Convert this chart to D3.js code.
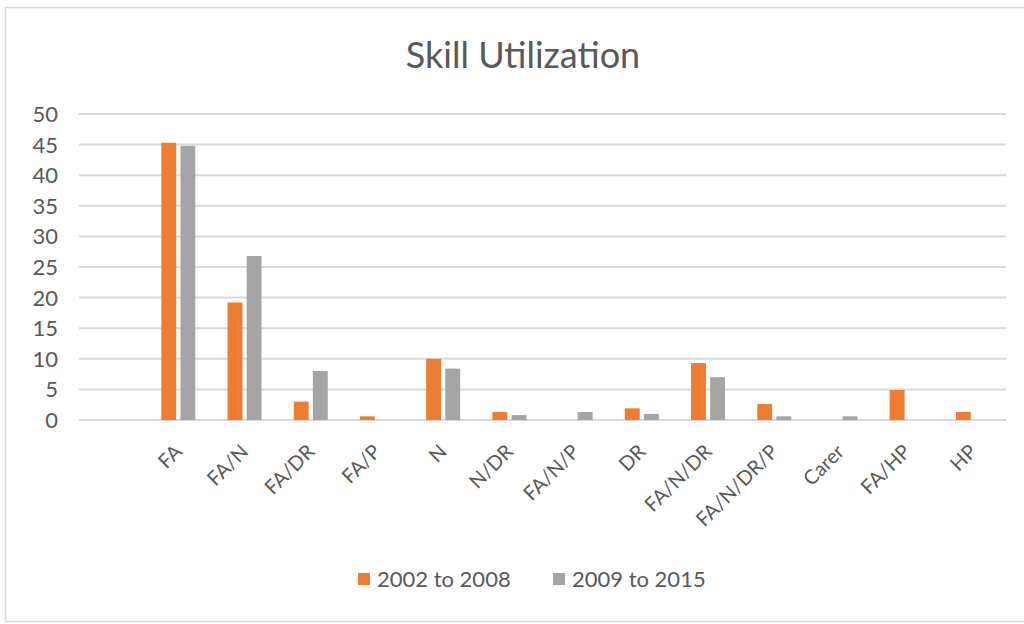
<!DOCTYPE html>
<html>
<head>
<meta charset="utf-8">
<script src="https://cdn.jsdelivr.net/npm/d3@7"></script>
<style>
  html, body { margin: 0; padding: 0; background: #ffffff; }
  svg { display: block; }
</style>
</head>
<body>
<svg id="chart" width="1024" height="624"></svg>
<script>
// ---- data ----
const categories = ["", "FA", "FA/N", "FA/DR", "FA/P", "N", "N/DR", "FA/N/P", "DR", "FA/N/DR", "FA/N/DR/P", "Carer", "FA/HP", "HP"];
const seriesNames = ["2002 to 2008", "2009 to 2015"];
const series2002to2008 = [null, 45.3, 19.2, 3.0, 0.6, 10.0, 1.3, 0, 1.9, 9.3, 2.6, 0, 4.9, 1.3];
const series2009to2015 = [null, 44.8, 26.8, 8.0, 0, 8.4, 0.8, 1.3, 1.0, 7.0, 0.6, 0.6, 0, 0];
const yTicks = [0, 5, 10, 15, 20, 25, 30, 35, 40, 45, 50];
const colors = ["#ED7D31", "#A5A5A5"];

const svg = d3.select("#chart");
const font = "Lato, 'Open Sans', sans-serif";
const textColor = "#595959";

// chart border
svg.append("rect")
  .attr("x", 5.5).attr("y", 7.5)
  .attr("width", 1040).attr("height", 614)
  .attr("fill", "#fff").attr("stroke", "#D9D9D9").attr("stroke-width", 1.5);

// title
svg.append("text")
  .attr("x", 523).attr("y", 68)
  .attr("text-anchor", "middle")
  .attr("font-family", font).attr("font-size", 36)
  .attr("fill", textColor)
  .text("Skill Utilization");

const plot = { left: 79, right: 1006, top: 114, bottom: 420 };

const x = d3.scaleBand().domain(categories.map((c, i) => i)).range([plot.left, plot.right]).padding(0);
const y = d3.scaleLinear().domain([0, 50]).range([plot.bottom, plot.top]);
const xs = d3.scaleBand().domain(seriesNames).range([-17, 17]).paddingInner(0.22).paddingOuter(0);

// gridlines
svg.append("g").selectAll("line").data(yTicks).join("line")
  .attr("x1", plot.left).attr("x2", plot.right)
  .attr("y1", d => y(d)).attr("y2", d => y(d))
  .attr("stroke", "#D9D9D9").attr("stroke-width", 2);

// y tick labels
svg.append("g").selectAll("text").data(yTicks).join("text")
  .attr("x", 58).attr("y", d => y(d))
  .attr("dy", "0.36em")
  .attr("text-anchor", "end")
  .attr("font-family", font).attr("font-size", 22)
  .attr("fill", textColor)
  .text(d => d);

// bars
const seriesData = [series2002to2008, series2009to2015];
seriesData.forEach((vals, si) => {
  svg.append("g").selectAll("rect")
    .data(vals.map((v, i) => ({ i, v })).filter(d => d.v != null && d.v > 0))
    .join("rect")
    .attr("x", d => x(d.i) + x.bandwidth() / 2 + xs(seriesNames[si]))
    .attr("width", xs.bandwidth())
    .attr("y", d => y(d.v))
    .attr("height", d => y(0) - y(d.v))
    .attr("fill", colors[si]);
});

// x labels (rotated)
svg.append("g").selectAll("text").data(categories.map((c, i) => ({ c, i })).filter(d => d.c !== ""))
  .join("text")
  .attr("transform", d => `translate(${x(d.i) + x.bandwidth() / 2 + 5},${453}) rotate(-45)`)
  .attr("text-anchor", "end")
  .attr("font-family", font).attr("font-size", 20)
  .attr("fill", textColor)
  .text(d => d.c);

// legend
const legend = svg.append("g");
const legendItems = [{ name: seriesNames[0], x: 358 }, { name: seriesNames[1], x: 553 }];
legendItems.forEach((it, i) => {
  legend.append("rect")
    .attr("x", it.x).attr("y", 573).attr("width", 12).attr("height", 12)
    .attr("fill", colors[i]);
  legend.append("text")
    .attr("x", it.x + 19).attr("y", 587)
    .attr("font-family", font).attr("font-size", 22)
    .attr("fill", textColor)
    .text(it.name);
});
</script>
</body>
</html>
